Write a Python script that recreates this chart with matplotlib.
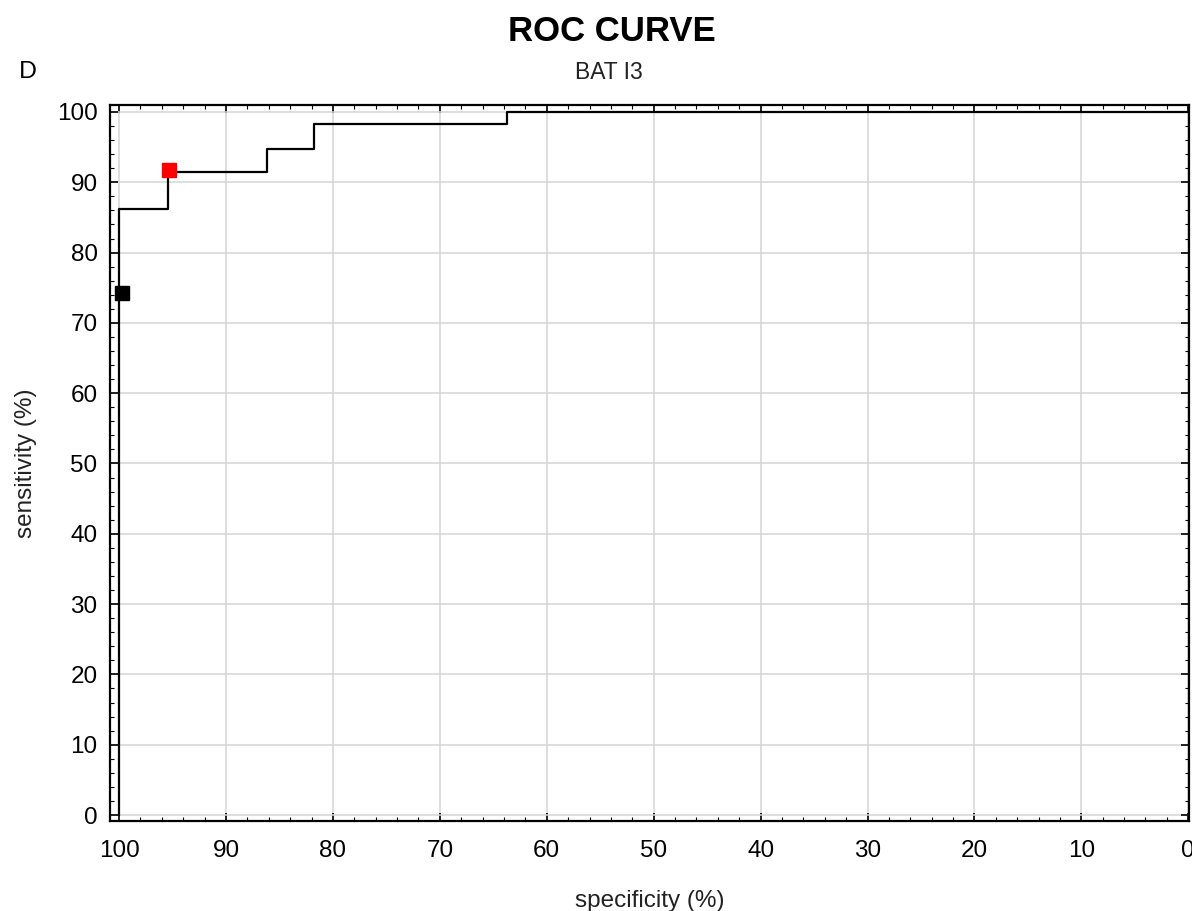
import matplotlib
matplotlib.use("Agg")
import matplotlib.pyplot as plt
from matplotlib.ticker import MultipleLocator

# ROC step curve (specificity %, sensitivity %)
specificity = [100, 100, 95.4, 95.4, 86.2, 86.2, 81.8, 81.8, 63.7, 63.7, 0]
sensitivity = [0, 86.2, 86.2, 91.4, 91.4, 94.8, 94.8, 98.3, 98.3, 100, 100]

# highlighted cut-off points
cut_spec = [95.3, 99.7]
cut_sens = [91.8, 74.2]
cut_colors = ["#ff0000", "#000000"]

plt.rcParams["font.family"] = ["Liberation Sans", "DejaVu Sans"]

fig = plt.figure(figsize=(11.92, 9.11), dpi=100)
ax = fig.add_axes([0.0923, 0.0988, 0.905, 0.786])

ax.plot(specificity, sensitivity, color="black", lw=1.6, zorder=3)
for x, y, c in zip(cut_spec, cut_sens, cut_colors):
    ax.plot([x], [y], marker="s", ms=9.5, color=c, mec=c, ls="none", zorder=4)

ax.set_xlim(100.85, -0.05)
ax.set_ylim(-0.85, 101)
ax.xaxis.set_major_locator(MultipleLocator(10))
ax.xaxis.set_minor_locator(MultipleLocator(2))
ax.yaxis.set_major_locator(MultipleLocator(10))
ax.yaxis.set_minor_locator(MultipleLocator(2))
ax.tick_params(which="both", direction="in", top=True, right=True, color="black")
ax.tick_params(which="major", length=6, width=1.2, labelsize=17.5)
ax.tick_params(axis="x", which="major", pad=14)
ax.tick_params(axis="y", which="major", pad=9)
ax.tick_params(which="minor", length=3, width=0.8)
ax.grid(True, which="major", color="#d4d4d4", lw=1.1)
ax.set_axisbelow(True)
for s in ax.spines.values():
    s.set_linewidth(1.6)

ax.set_xlabel("specificity (%)", fontsize=17.5, labelpad=20, color="#222222")
ax.set_ylabel("sensitivity (%)", fontsize=17.5, labelpad=14, color="#222222")

fig.text(0.513, 0.965, "ROC CURVE", ha="center", va="center", fontsize=25,
         fontweight="bold")
fig.text(0.511, 0.92, "BAT I3", ha="center", va="center", fontsize=16.5,
         color="#222222")
fig.text(0.016, 0.921, "D", ha="left", va="center", fontsize=17, family="Lato")

fig.savefig("out.png", dpi=100)
